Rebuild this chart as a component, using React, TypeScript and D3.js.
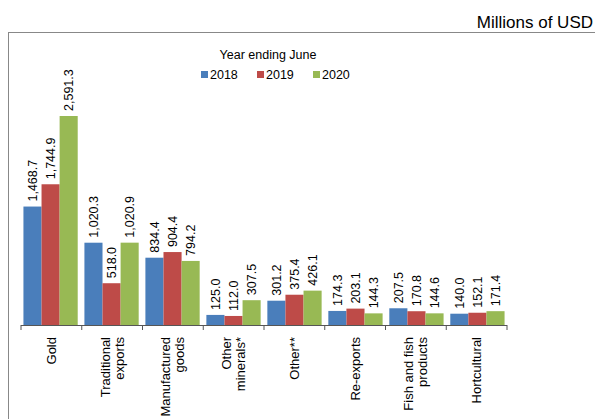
import * as d3 from "d3";

const categories = ["Gold", "Traditional\nexports", "Manufactured\ngoods", "Other\nminerals*", "Other**", "Re-exports", "Fish and fish\nproducts", "Hortcultural"];
const years = ["2018", "2019", "2020"];
const v2018 = [1468.7, 1020.3, 834.4, 125.0, 301.2, 174.3, 207.5, 140.0];
const v2019 = [1744.9, 518.0, 904.4, 112.0, 375.4, 203.1, 170.8, 152.1];
const v2020 = [2591.3, 1020.9, 794.2, 307.5, 426.1, 144.3, 144.6, 171.4];
const colors = ["#4a7ebb", "#be4b48", "#98b954"];

const W = 595, H = 419;
const baseY = 325;
const font = "Arial, 'Liberation Sans', sans-serif";

export default function App() {
  const series = [v2018, v2019, v2020];
  const x0 = d3.scaleBand().domain(categories).range([21, 507]).paddingInner(0.11).paddingOuter(0.04);
  const x1 = d3.scaleBand().domain(years).range([0, x0.bandwidth()]);
  const y = d3.scaleLinear().domain([0, 2591.3]).range([baseY, 116]);
  const step = (507 - 21) / categories.length;
  const fmt = d3.format(",.1f");
  return (
    <svg width={W} height={H} style={{ position: "absolute", left: 0, top: 0, fontFamily: font }}>
      <rect x={0} y={0} width={W} height={H} fill="#fff" />
      <text x={593} y={28} textAnchor="end" fontSize={17} fill="#000">Millions of USD</text>
      <rect x={8.5} y={32.5} width={620} height={420} fill="none" stroke="#888" strokeWidth={1} />
      <text x={268} y={59} textAnchor="middle" fontSize={12.5}>Year ending June</text>
      {years.map((yr, i) => (
        <g key={yr} transform={`translate(${201 + i * 56},71)`}>
          <rect x={0} y={0} width={7} height={7} fill={colors[i]} />
          <text x={9} y={8} fontSize={12.5}>{yr}</text>
        </g>
      ))}
      {categories.map((c, ci) => (
        <g key={c} transform={`translate(${x0(c)},0)`}>
          {series.map((s, si) => {
            const bx = x1(years[si])!;
            const top = y(s[ci]);
            return (
              <g key={si}>
                <rect x={bx} y={top} width={x1.bandwidth()} height={baseY - top} fill={colors[si]} />
                <text transform={`translate(${bx + x1.bandwidth() / 2 + 4.5},${top - 5}) rotate(-90)`} fontSize={12.5}>{fmt(s[ci])}</text>
              </g>
            );
          })}
        </g>
      ))}
      <line x1={21} x2={507} y1={baseY + 0.5} y2={baseY + 0.5} stroke="#555" />
      {d3.range(categories.length + 1).map((i) => (
        <line key={i} x1={21 + i * step} x2={21 + i * step} y1={baseY} y2={baseY + 5} stroke="#555" />
      ))}
      {categories.map((c, ci) => {
        const lines = c.split("\n");
        const cx = 21 + step * (ci + 0.5);
        return (
          <text key={c} transform={`translate(${cx},${337}) rotate(-90)`} textAnchor="end" fontSize={13}>
            {lines.map((l, li) => (
              <tspan key={li} x={0} y={(li - (lines.length - 1) / 2) * 14 + 4.5}>{l}</tspan>
            ))}
          </text>
        );
      })}
    </svg>
  );
}
